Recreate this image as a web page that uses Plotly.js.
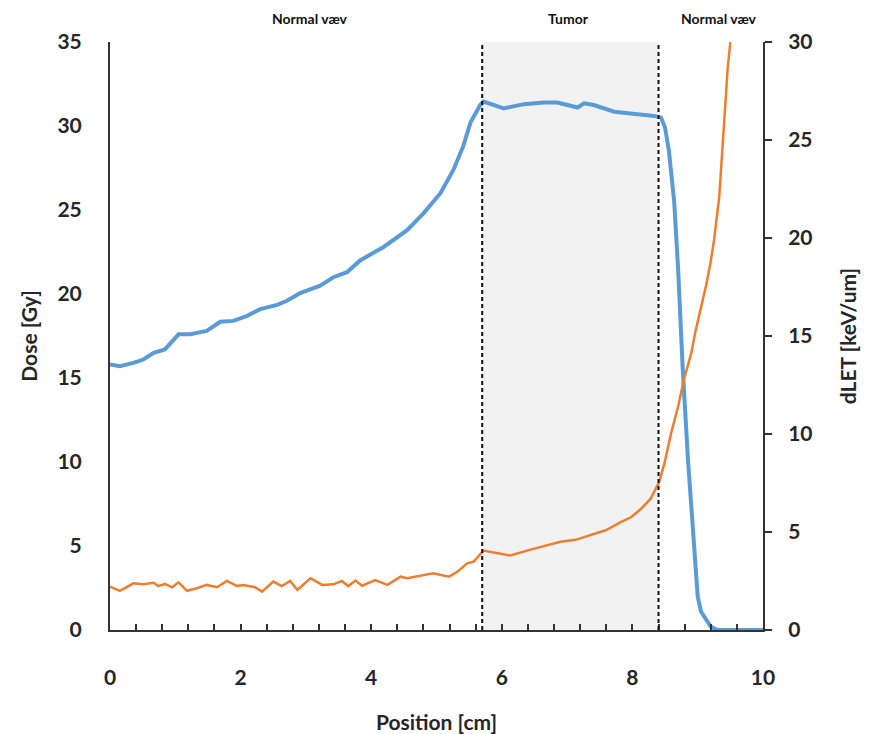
<!DOCTYPE html>
<html>
<head>
<meta charset="utf-8">
<script src="https://cdn.plot.ly/plotly-3.0.1.min.js"></script>
<style>html,body{margin:0;padding:0;background:#fff;}#chart{width:869px;height:734px;}</style>
</head>
<body>
<div id="chart"></div>
<script>
// Dose [Gy] (left axis)
const doseX = [0, 0.15, 0.36, 0.51, 0.67, 0.84, 1.05, 1.23, 1.48, 1.69, 1.89, 2.1, 2.3, 2.56, 2.71, 2.91, 3.22, 3.42, 3.63, 3.83, 4.19, 4.55, 4.8, 5.06, 5.26, 5.41, 5.52, 5.67, 5.72, 6.03, 6.34, 6.64, 6.85, 7.16, 7.26, 7.41, 7.72, 8.02, 8.33, 8.44, 8.5, 8.56, 8.64, 8.7, 8.77, 8.85, 8.93, 9.0, 9.05, 9.2, 9.3, 10];
const doseY = [15.8, 15.7, 15.9, 16.1, 16.5, 16.7, 17.6, 17.6, 17.8, 18.35, 18.4, 18.7, 19.1, 19.35, 19.6, 20.05, 20.5, 21.0, 21.3, 22.0, 22.8, 23.8, 24.8, 26.0, 27.4, 28.8, 30.2, 31.25, 31.45, 31.05, 31.3, 31.4, 31.4, 31.1, 31.35, 31.25, 30.85, 30.75, 30.6, 30.5, 29.9, 28.5, 25.5, 21.5, 15.6, 10.2, 5.4, 2.0, 1.1, 0.2, 0, 0];

// dLET [keV/um] (right axis)
const letX = [0, 0.15, 0.36, 0.51, 0.67, 0.74, 0.84, 0.95, 1.05, 1.18, 1.33, 1.48, 1.64, 1.79, 1.95, 2.04, 2.22, 2.33, 2.5, 2.63, 2.76, 2.87, 3.07, 3.25, 3.42, 3.55, 3.65, 3.76, 3.86, 4.06, 4.25, 4.45, 4.55, 4.95, 5.19, 5.32, 5.47, 5.57, 5.72, 5.93, 6.13, 6.44, 6.67, 6.9, 7.13, 7.36, 7.6, 7.82, 7.98, 8.13, 8.28, 8.41, 8.49, 8.59, 8.7, 8.79, 8.9, 8.97, 9.05, 9.13, 9.2, 9.25, 9.33, 9.4, 9.46, 9.5];
const letY = [2.21, 2.0, 2.38, 2.33, 2.41, 2.24, 2.35, 2.18, 2.43, 2.0, 2.13, 2.3, 2.18, 2.5, 2.24, 2.3, 2.18, 1.96, 2.47, 2.24, 2.5, 2.04, 2.64, 2.3, 2.33, 2.5, 2.24, 2.52, 2.26, 2.55, 2.3, 2.72, 2.64, 2.89, 2.72, 2.97, 3.4, 3.49, 4.05, 3.91, 3.8, 4.1, 4.3, 4.5, 4.6, 4.85, 5.1, 5.5, 5.75, 6.17, 6.7, 7.55, 8.5, 10.0, 11.4, 12.8, 14.1, 15.3, 16.4, 17.6, 18.8, 19.9, 22.1, 25.8, 28.7, 30.0];

// Regions
const tumorStart = 5.7;
const tumorEnd = 8.4;
const regionLabels = ["Normal væv", "Tumor", "Normal væv"];
const regionLabelX = [3.07, 7.02, 9.33];

const axisTitles = {x: "Position [cm]", y: "Dose [Gy]", y2: "dLET [keV/um]"};

const FONT = "Lato, 'Open Sans', sans-serif";
const TXT = "#262626";

const traces = [
  {x: doseX, y: doseY, type: "scatter", mode: "lines", name: "Dose",
   line: {color: "#5b9bd5", width: 4}, yaxis: "y", hoverinfo: "skip"},
  {x: letX, y: letY, type: "scatter", mode: "lines", name: "dLET",
   line: {color: "#ed7d31", width: 2.5}, yaxis: "y2", hoverinfo: "skip"}
];

const layout = {
  width: 869, height: 734,
  margin: {l: 110, r: 106, t: 42, b: 104},
  paper_bgcolor: "#ffffff", plot_bgcolor: "#ffffff",
  showlegend: false,
  font: {family: FONT, color: TXT},
  xaxis: {
    range: [0, 10], dtick: 2, tick0: 0, showgrid: false, zeroline: false,
    showline: true, linecolor: "#333", linewidth: 2,
    ticks: "inside", ticklen: 6, tickwidth: 2, tickcolor: "#333",
    minor: {dtick: 0.4, tick0: 0, ticks: "inside", ticklen: 6, tickwidth: 2, tickcolor: "#333", showgrid: false},
    tickfont: {family: FONT, size: 21, color: TXT, weight: "bold"},
    ticklabelstandoff: 28,
    title: {text: axisTitles.x, font: {family: FONT, size: 21, color: TXT, weight: "bold"}, standoff: 30}
  },
  yaxis: {
    range: [0, 35], dtick: 5, showgrid: false, zeroline: false,
    showline: true, linecolor: "#333", linewidth: 2, ticks: "",
    tickfont: {family: FONT, size: 21, color: TXT, weight: "bold"},
    ticklabelstandoff: 22,
    title: {text: axisTitles.y, font: {family: FONT, size: 21, color: TXT, weight: "bold"}, standoff: 14}
  },
  yaxis2: {
    range: [0, 30], dtick: 5, overlaying: "y", side: "right",
    showgrid: false, zeroline: false,
    showline: true, linecolor: "#333", linewidth: 2,
    ticks: "outside", ticklen: 7, tickwidth: 2, tickcolor: "#333",
    tickfont: {family: FONT, size: 21, color: TXT, weight: "bold"},
    ticklabelstandoff: 12,
    title: {text: axisTitles.y2, font: {family: FONT, size: 21, color: TXT, weight: "bold"}, standoff: 30}
  },
  shapes: [
    {type: "rect", xref: "x", yref: "paper", x0: tumorStart, x1: tumorEnd, y0: 0, y1: 1,
     fillcolor: "#f2f2f2", line: {width: 0}, layer: "below"},
    {type: "line", xref: "x", yref: "paper", x0: tumorStart, x1: tumorStart, y0: 0, y1: 1,
     line: {color: "#111", width: 2, dash: "4px,3px"}, layer: "above"},
    {type: "line", xref: "x", yref: "paper", x0: tumorEnd, x1: tumorEnd, y0: 0, y1: 1,
     line: {color: "#111", width: 2, dash: "4px,3px"}, layer: "above"}
  ],
  annotations: regionLabels.map((t, i) => ({
    text: t, x: regionLabelX[i], xref: "x", y: 1.04, yref: "paper",
    showarrow: false, xanchor: "center", yanchor: "middle",
    font: {family: FONT, size: 14, color: "#111", weight: "bold"}
  }))
};

Plotly.newPlot("chart", traces, layout, {displayModeBar: false, staticPlot: true});
</script>
</body>
</html>
